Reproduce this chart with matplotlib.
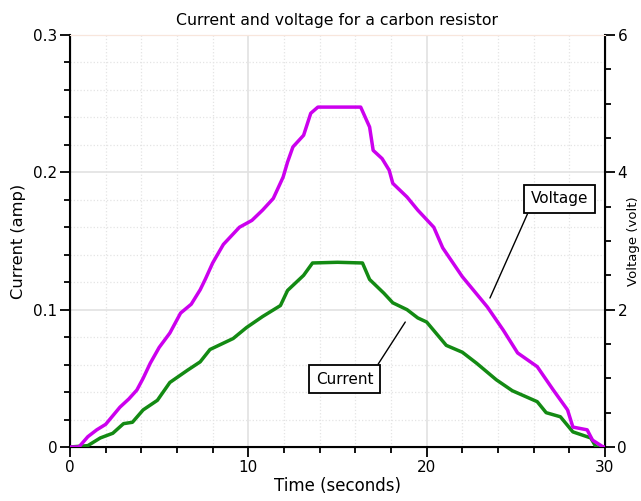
import numpy as np
from matplotlib import pyplot as plt
from matplotlib.ticker import MultipleLocator

# values
volt_t = [0, 0.5, 1.0, 1.5, 2.0, 2.8, 3.3, 3.75, 4.1, 4.5, 5.0, 5.6, 6.2, 6.8, 7.3, 7.6, 8.0, 8.6, 9.5,
          10.2, 10.8, 11.4, 11.95, 12.2, 12.5, 13.1, 13.5, 13.9, 15.0, 16.3, 16.8, 17.0, 17.5, 17.9,
          18.1, 18.9, 19.5, 20.4, 20.9, 22.0, 23.4, 24.3, 25.1, 26.2, 27.1, 27.9, 28.2, 29.0, 29.3, 29.9, 30.0]
volt_v = [0, 0, 0.15, 0.25, 0.33, 0.58, 0.7, 0.83, 1.0, 1.22, 1.45, 1.66, 1.95, 2.08, 2.29, 2.45, 2.68, 2.95, 3.2,
          3.3, 3.45, 3.62, 3.93, 4.15, 4.37, 4.54, 4.86, 4.95, 4.95, 4.95, 4.66, 4.32, 4.2, 4.03,
          3.84, 3.64, 3.45, 3.2, 2.9, 2.48, 2.04, 1.70, 1.37, 1.17, 0.83, 0.54, 0.29, 0.25, 0.10, 0, 0]

curr_t = [0, 1.0, 1.7, 2.4, 3.0, 3.5, 4.1, 4.9, 5.6, 6.6, 7.3, 7.85, 9.15, 9.9, 10.8, 11.8, 12.2, 13.1,
          13.6, 15.0, 16.4, 16.8, 17.6, 18.1, 18.9, 19.5, 20.0, 21.1, 22.0, 22.8, 23.9, 24.8, 26.2,
          26.7, 27.5, 28.2, 29.2, 29.5, 30.0]
curr_i = [0, 0.001, 0.0066, 0.01, 0.017, 0.018, 0.027, 0.034, 0.047, 0.056, 0.062, 0.071, 0.079, 0.087, 0.095,
          0.103, 0.114, 0.125, 0.134, 0.1345, 0.134, 0.122, 0.112, 0.105, 0.1, 0.094, 0.091, 0.074, 0.069,
          0.061, 0.049, 0.041, 0.033, 0.025, 0.022, 0.011, 0.0066, 0, 0]

fig = plt.figure(figsize=(6.41, 5.01), dpi=100)
ax = fig.add_axes([70 / 641, 1 - 447 / 501, 535 / 641, 412 / 501])
ax2 = ax.twinx()

ax.set_xlim(0, 30)
ax.set_ylim(0, 0.3)
ax2.set_ylim(0, 6)

ax.xaxis.set_major_locator(MultipleLocator(10))
ax.xaxis.set_minor_locator(MultipleLocator(2))
ax.yaxis.set_major_locator(MultipleLocator(0.1))
ax.yaxis.set_minor_locator(MultipleLocator(0.02))
ax2.yaxis.set_major_locator(MultipleLocator(2))
ax2.yaxis.set_minor_locator(MultipleLocator(0.5))
ax.yaxis.set_major_formatter(lambda v, p: '0' if v == 0 else f'{v:.1f}')

ax.grid(which='major', color='#e2e2e2', lw=1.2)
ax.grid(which='minor', color='#e4e4e4', lw=0.9, ls=':')

ax.plot(curr_t, curr_i, color='#138a13', lw=2.5, zorder=3)
ax2.plot(volt_t, volt_v, color='#cc00ee', lw=2.5, zorder=3)

for a in (ax, ax2):
    a.spines['top'].set_color('#f8e6dc')
    a.tick_params(which='major', length=7, width=1.3, labelsize=11, pad=2)
    a.tick_params(which='minor', length=4, width=1.3)
ax.spines['left'].set_linewidth(1.5)
ax.spines['bottom'].set_linewidth(1.5)
ax2.spines['right'].set_linewidth(1.5)

ax.set_title('Current and voltage for a carbon resistor', fontsize=11.3, pad=7)
ax.set_xlabel('Time (seconds)', fontsize=12, labelpad=2)
ax.set_ylabel('Current (amp)', fontsize=11.7, labelpad=5)
ax2.set_ylabel('Voltage (volt)', fontsize=9.5, labelpad=0)

box = dict(boxstyle='square,pad=0.45', fc='white', ec='black', lw=1.3)
ax.annotate('Voltage', xy=(23.55, 0.1085), xytext=(27.45, 0.1806), fontsize=11,
            ha='center', va='center', bbox=box, zorder=5,
            arrowprops=dict(arrowstyle='-', lw=1, shrinkA=0, shrinkB=0, relpos=(0.0, 0.0)))
ax.annotate('Current', xy=(18.8, 0.091), xytext=(15.4, 0.0495), fontsize=11,
            ha='center', va='center', bbox=box, zorder=5,
            arrowprops=dict(arrowstyle='-', lw=1, shrinkA=0, shrinkB=0, relpos=(1.0, 1.0)))

fig.savefig('out.png', dpi=100)
